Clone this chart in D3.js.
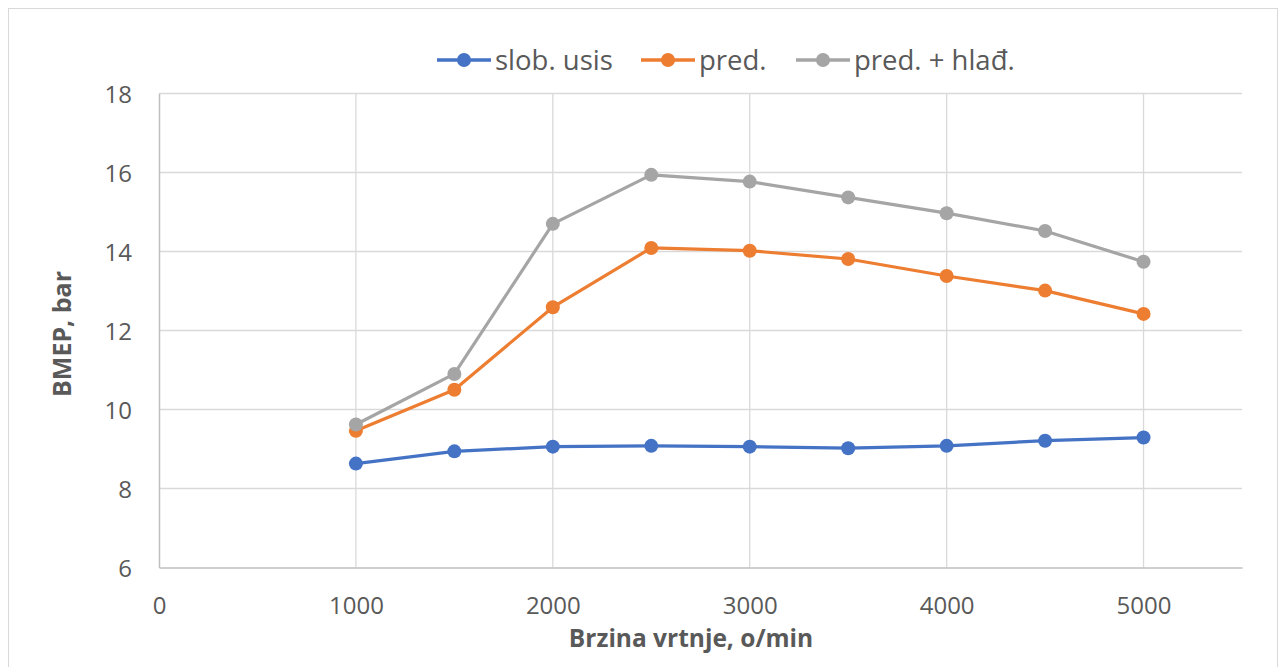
<!DOCTYPE html>
<html><head><meta charset="utf-8">
<script src="https://cdn.jsdelivr.net/npm/d3@7"></script>
<style>body{margin:0;background:#fff;} svg{display:block;}</style>
</head><body>
<svg id="c" width="1287" height="667"></svg>
<script>
const rpm = [1000,1500,2000,2500,3000,3500,4000,4500,5000];
const slobUsis = [8.63,8.94,9.06,9.08,9.06,9.02,9.08,9.21,9.29];
const pred = [9.46,10.5,12.59,14.09,14.02,13.81,13.38,13.01,12.42];
const predHlad = [9.62,10.9,14.7,15.94,15.77,15.37,14.97,14.52,13.74];
const seriesNames = ["slob. usis","pred.","pred. + hlađ."];
const xTicks = [0,1000,2000,3000,4000,5000];
const yTicks = [6,8,10,12,14,16,18];
const colors = ["#4472C4","#ED7D31","#A5A5A5"];

const svg = d3.select("#c");
const font = "'Open Sans', 'Noto Sans', sans-serif";
svg.append("rect").attr("x",8.5).attr("y",8.5).attr("width",1269).attr("height",680)
  .attr("fill","#fff").attr("stroke","#d9d9d9");

const L=159, R=1242, T=93.5, B=567.5;
const x = d3.scaleLinear().domain([0,5500]).range([L,R]);
const y = d3.scaleLinear().domain([6,18]).range([B,T]);

const g = svg.append("g");
g.selectAll(".hg").data(yTicks.filter(d=>d>6)).enter().append("line")
  .attr("x1",L).attr("x2",R).attr("y1",d=>y(d)).attr("y2",d=>y(d))
  .attr("stroke","#d9d9d9").attr("stroke-width",1.3);
g.selectAll(".vg").data(d3.range(1000,5501,1000)).enter().append("line")
  .attr("y1",T).attr("y2",B).attr("x1",d=>x(d)).attr("x2",d=>x(d))
  .attr("stroke","#d9d9d9").attr("stroke-width",1.3);

const xAxis = d3.axisBottom(x).tickValues(xTicks).tickSize(0).tickPadding(0).tickFormat(d3.format("d"));
const yAxis = d3.axisLeft(y).tickValues(yTicks).tickSize(0).tickPadding(27).tickFormat(d3.format("d"));
const xa = svg.append("g").attr("transform",`translate(0,${B})`).call(xAxis);
const ya = svg.append("g").attr("transform",`translate(${L},0)`).call(yAxis);
[xa,ya].forEach(a=>{
  a.select(".domain").attr("stroke","#bfbfbf").attr("stroke-width",1.5);
  a.selectAll("text").attr("font-family",font).attr("font-size",24).attr("fill","#595959");
});
ya.selectAll("text").attr("dy","0.36em");
xa.selectAll("text").attr("dy",0).attr("y",46);

const data = [slobUsis,pred,predHlad];
const line = d3.line().x((d,i)=>x(rpm[i])).y(d=>y(d));
data.forEach((s,k)=>{
  svg.append("path").datum(s).attr("d",line).attr("fill","none")
    .attr("stroke",colors[k]).attr("stroke-width",3.2).attr("stroke-linejoin","round");
  svg.selectAll(".m"+k).data(s).enter().append("circle")
    .attr("cx",(d,i)=>x(rpm[i])).attr("cy",d=>y(d)).attr("r",7).attr("fill",colors[k]);
});

svg.append("text").attr("x",691).attr("y",647).attr("text-anchor","middle")
  .attr("font-family",font).attr("font-size",24.5).attr("font-weight","bold").attr("fill","#595959")
  .text("Brzina vrtnje, o/min");
svg.append("text").attr("transform","translate(71,334) rotate(-90)").attr("text-anchor","middle")
  .attr("font-family",font).attr("font-size",25).attr("font-weight","bold").attr("fill","#595959")
  .text("BMEP, bar");

const legX = [437,641,796];
seriesNames.forEach((n,k)=>{
  const lg = svg.append("g").attr("transform",`translate(${legX[k]},60)`);
  lg.append("line").attr("x1",0).attr("x2",54).attr("y1",0).attr("y2",0)
    .attr("stroke",colors[k]).attr("stroke-width",3.5);
  lg.append("circle").attr("cx",27).attr("cy",0).attr("r",7).attr("fill",colors[k]);
  lg.append("text").attr("x",58).attr("y",0).attr("dy","0.35em")
    .attr("font-family",font).attr("font-size",27.5).attr("fill","#595959").text(n);
});
</script>
</body></html>
